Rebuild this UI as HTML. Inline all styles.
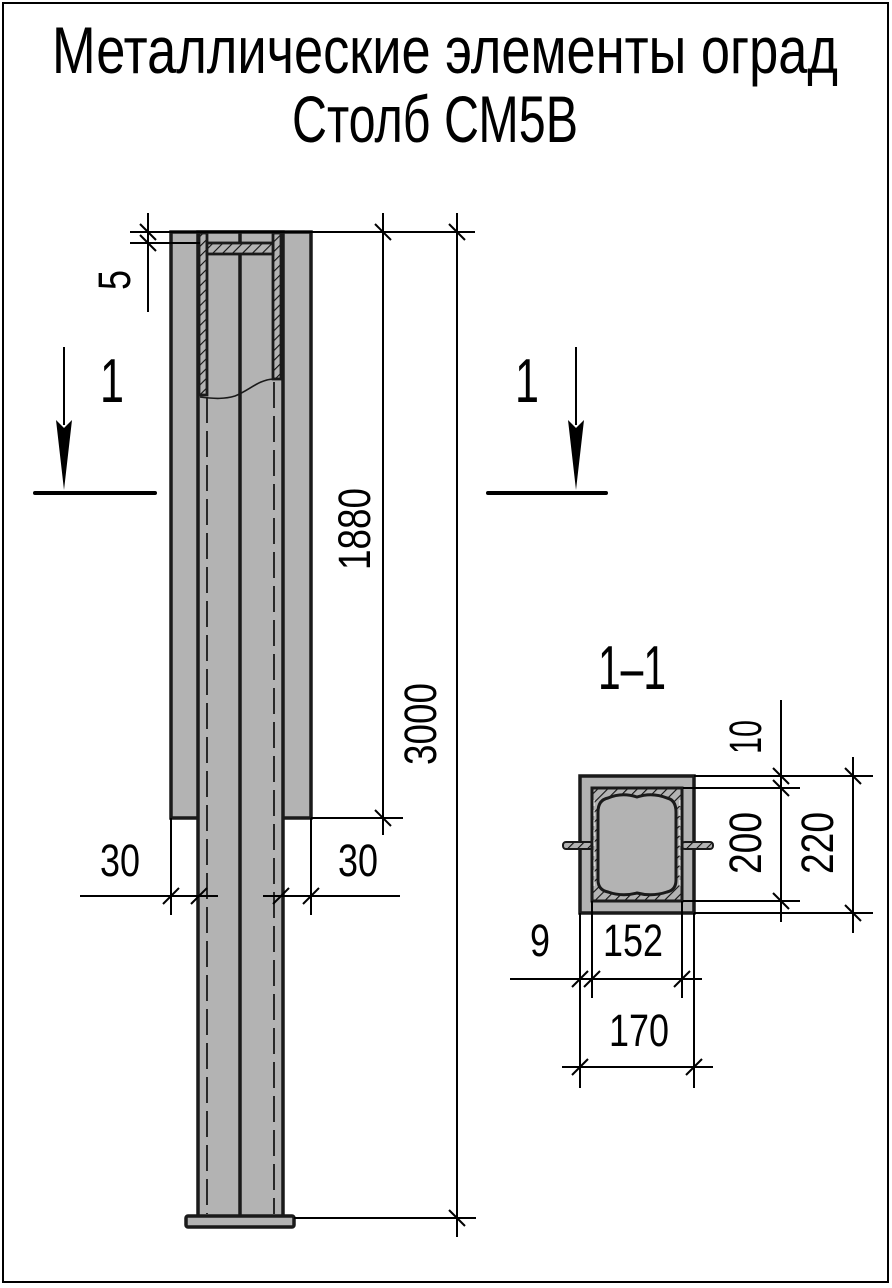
<!DOCTYPE html>
<html><head><meta charset="utf-8"><style>html,body{margin:0;padding:0;background:#fff}svg{display:block}</style></head>
<body>
<svg width="892" height="1288" viewBox="0 0 892 1288" xmlns="http://www.w3.org/2000/svg" font-family="'Liberation Sans', 'DejaVu Sans', sans-serif">
<defs>
<pattern id="h" width="7" height="7" patternUnits="userSpaceOnUse" patternTransform="rotate(45)">
<rect width="7" height="7" fill="#b3b3b3"/><line x1="0" y1="0" x2="0" y2="7" stroke="#111" stroke-width="2.2"/>
</pattern>
</defs>
<rect x="3" y="3" width="885" height="1279" fill="none" stroke="#000" stroke-width="2"/>
<text x="52" y="73" font-size="66" textLength="786" lengthAdjust="spacingAndGlyphs">Металлические элементы оград</text>
<text x="292" y="142" font-size="66" textLength="286" lengthAdjust="spacingAndGlyphs">Столб СМ5В</text>

<rect x="171" y="232" width="140" height="586" fill="#b3b3b3" stroke="#1a1a1a" stroke-width="3.5"/>
<rect x="198" y="232" width="85" height="986" fill="#b3b3b3" stroke="#1a1a1a" stroke-width="3.5"/>
<line x1="240" y1="232" x2="240" y2="1216" stroke="#1a1a1a" stroke-width="3.5"/>
<rect x="199" y="233" width="8" height="162" fill="url(#h)" stroke="#1a1a1a" stroke-width="2.8"/>
<rect x="273" y="233" width="8" height="146" fill="url(#h)" stroke="#1a1a1a" stroke-width="2.8"/>
<rect x="207" y="243" width="66" height="11" fill="url(#h)" stroke="#1a1a1a" stroke-width="2.8"/>
<path d="M200 397 C215 399 225 399 235 396 C250 390 258 380 273 379" fill="none" stroke="#1a1a1a" stroke-width="1.6"/>
<line x1="207" y1="397" x2="207" y2="1214" stroke="#1a1a1a" stroke-width="1.8" stroke-dasharray="26 8"/>
<line x1="274" y1="382" x2="274" y2="1214" stroke="#1a1a1a" stroke-width="1.8" stroke-dasharray="26 8"/>
<rect x="186" y="1216" width="108" height="11" rx="2" fill="#b3b3b3" stroke="#1a1a1a" stroke-width="3.5"/>

<g stroke="#000" stroke-width="2" fill="none">
<line x1="130" y1="232" x2="475" y2="232"/>
<line x1="130" y1="243" x2="200" y2="243"/>
<line x1="148" y1="213" x2="148" y2="312"/>
<line x1="140" y1="224" x2="156" y2="240"/><line x1="140" y1="235" x2="156" y2="251"/>
<line x1="383" y1="213" x2="383" y2="835"/>
<line x1="375" y1="224" x2="391" y2="240"/><line x1="375" y1="810" x2="391" y2="826"/>
<line x1="311" y1="818" x2="403" y2="818"/>
<line x1="457" y1="213" x2="457" y2="1237"/>
<line x1="449" y1="224" x2="465" y2="240"/><line x1="449" y1="1210" x2="465" y2="1226"/>
<line x1="294" y1="1218" x2="476" y2="1218"/>
<line x1="80" y1="896" x2="218" y2="896"/>
<line x1="263" y1="896" x2="400" y2="896"/>
<line x1="171" y1="818" x2="171" y2="915"/>
<line x1="311" y1="818" x2="311" y2="915"/>
<line x1="163" y1="904" x2="179" y2="888"/><line x1="191" y1="904" x2="207" y2="888"/>
<line x1="273" y1="904" x2="289" y2="888"/><line x1="303" y1="904" x2="319" y2="888"/>
<line x1="64" y1="347" x2="64" y2="425"/>
<line x1="576" y1="347" x2="576" y2="425"/>
</g>
<g fill="#000">
<polygon points="56,420 64,428 72,420 64,490"/>
<polygon points="568,420 576,428 584,420 576,490"/>
</g>
<line x1="35" y1="493" x2="155" y2="493" stroke="#000" stroke-width="4" stroke-linecap="round"/>
<line x1="488" y1="493" x2="606" y2="493" stroke="#000" stroke-width="4" stroke-linecap="round"/>

<g font-size="62" fill="#000">
<text x="112" y="402" text-anchor="middle" textLength="24" lengthAdjust="spacingAndGlyphs">1</text>
<text x="527" y="402" text-anchor="middle" textLength="24" lengthAdjust="spacingAndGlyphs">1</text>
<text x="598" y="689" textLength="68" lengthAdjust="spacingAndGlyphs">1–1</text>
</g>
<g font-size="45" fill="#000">
<text x="100" y="876" textLength="40" lengthAdjust="spacingAndGlyphs">30</text>
<text x="338" y="876" textLength="40" lengthAdjust="spacingAndGlyphs">30</text>
<text transform="translate(130,280) rotate(-90)" text-anchor="middle" textLength="20" lengthAdjust="spacingAndGlyphs">5</text>
<text transform="translate(370,529) rotate(-90)" text-anchor="middle" textLength="82" lengthAdjust="spacingAndGlyphs">1880</text>
<text transform="translate(436,724) rotate(-90)" text-anchor="middle" textLength="82" lengthAdjust="spacingAndGlyphs">3000</text>
<text transform="translate(761,737) rotate(-90)" text-anchor="middle" textLength="34" lengthAdjust="spacingAndGlyphs">10</text>
<text transform="translate(761,843) rotate(-90)" text-anchor="middle" textLength="62" lengthAdjust="spacingAndGlyphs">200</text>
<text transform="translate(833,843) rotate(-90)" text-anchor="middle" textLength="62" lengthAdjust="spacingAndGlyphs">220</text>
<text x="540" y="956" text-anchor="middle" textLength="20" lengthAdjust="spacingAndGlyphs">9</text>
<text x="633" y="956" text-anchor="middle" textLength="60" lengthAdjust="spacingAndGlyphs">152</text>
<text x="639" y="1046" text-anchor="middle" textLength="60" lengthAdjust="spacingAndGlyphs">170</text>
</g>

<rect x="580" y="776" width="114" height="137" fill="#b3b3b3" stroke="#1a1a1a" stroke-width="3.5"/>
<rect x="563" y="842" width="30" height="7" rx="3" fill="url(#h)" stroke="#1a1a1a" stroke-width="2"/>
<rect x="682" y="842" width="31" height="7" rx="3" fill="url(#h)" stroke="#1a1a1a" stroke-width="2"/>
<rect x="592" y="788" width="90" height="113" fill="url(#h)" stroke="#1a1a1a" stroke-width="3"/>
<path d="M608 798 Q622 792 637 797 Q652 792 667 798 Q676 800 676 812 L676 880 Q676 890 667 892 Q652 897 637 893 Q622 897 608 892 Q598 890 598 880 L598 812 Q598 800 608 798 Z" fill="#b3b3b3" stroke="#1a1a1a" stroke-width="3"/>
<g stroke="#fff" stroke-width="1" stroke-dasharray="6 4" fill="none">
<line x1="594" y1="800" x2="594" y2="890"/><line x1="680" y1="800" x2="680" y2="890"/>
</g>
<g stroke="#000" stroke-width="2" fill="none">
<line x1="694" y1="776" x2="873" y2="776"/>
<line x1="694" y1="913" x2="873" y2="913"/>
<line x1="683" y1="788" x2="800" y2="788"/>
<line x1="683" y1="901" x2="800" y2="901"/>
<line x1="781" y1="700" x2="781" y2="922"/>
<line x1="773" y1="768" x2="789" y2="784"/><line x1="773" y1="780" x2="789" y2="796"/><line x1="773" y1="893" x2="789" y2="909"/>
<line x1="853" y1="757" x2="853" y2="933"/>
<line x1="845" y1="768" x2="861" y2="784"/><line x1="845" y1="905" x2="861" y2="921"/>
<line x1="510" y1="979" x2="702" y2="979"/>
<line x1="580" y1="913" x2="580" y2="1088"/>
<line x1="592" y1="901" x2="592" y2="998"/>
<line x1="682" y1="901" x2="682" y2="998"/>
<line x1="694" y1="913" x2="694" y2="1088"/>
<line x1="572" y1="987" x2="588" y2="971"/><line x1="584" y1="987" x2="600" y2="971"/><line x1="674" y1="987" x2="690" y2="971"/>
<line x1="562" y1="1067" x2="713" y2="1067"/>
<line x1="572" y1="1075" x2="588" y2="1059"/><line x1="686" y1="1075" x2="702" y2="1059"/>
</g>
</svg>
</body></html>
